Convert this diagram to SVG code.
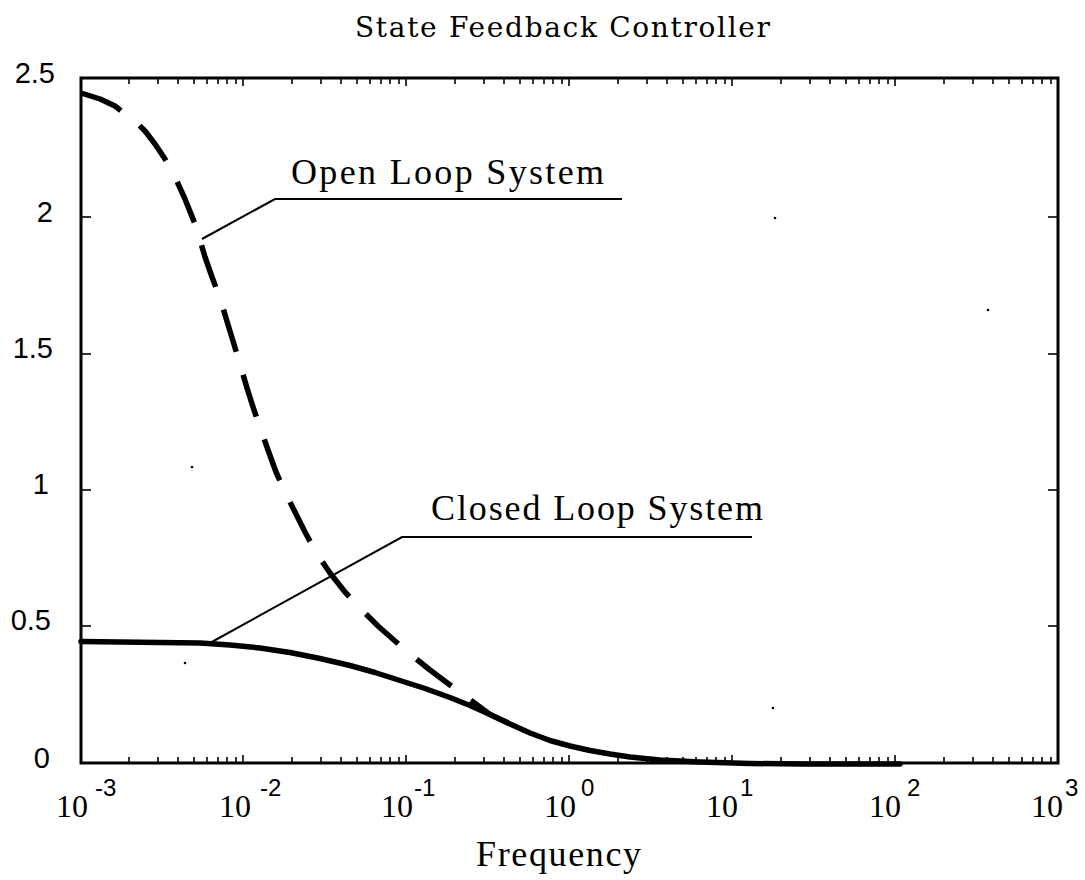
<svg xmlns="http://www.w3.org/2000/svg" width="1085" height="880" viewBox="0 0 1085 880">
  <defs>
    <style>
      .axis { fill: none; stroke: #000; stroke-width: 3; }
      .tick { stroke: #000; stroke-width: 1.6; }
      .curve { fill: none; stroke: #000; stroke-width: 5.5; stroke-linejoin: round; stroke-linecap: round; }
      .open { stroke-dasharray: 44 24; stroke-linecap: butt; }
      .leader { fill: none; stroke: #000; stroke-width: 2; }
      .ylab { font-family: "Liberation Sans", Arial, sans-serif; font-size: 29px; fill: #000; text-anchor: end; }
      .xlab { font-family: "Liberation Serif", "Times New Roman", serif; font-size: 32px; fill: #000; }
      .sup { font-family: "Liberation Sans", Arial, sans-serif; font-size: 24px; fill: #000; }
      .label { font-family: "Liberation Serif", "Times New Roman", serif; font-size: 36px; fill: #000; }
      .title { font-family: "DejaVu Serif", "Liberation Serif", serif; font-size: 28px; fill: #000; }
    </style>
  </defs>

  <!-- plot title -->
  <text id="title" class="title" x="355" y="37" textLength="415" lengthAdjust="spacing">State Feedback Controller</text>

  <!-- axes frame with ticks -->
  <g id="axes">
    <rect class="axis" x="81" y="78" width="977" height="685"/>
    <!-- y ticks (left and right) -->
    <g class="tick">
      <line x1="81" y1="217" x2="91" y2="217"/><line x1="1058" y1="217" x2="1048" y2="217"/>
      <line x1="81" y1="354" x2="91" y2="354"/><line x1="1058" y1="354" x2="1048" y2="354"/>
      <line x1="81" y1="490" x2="91" y2="490"/><line x1="1058" y1="490" x2="1048" y2="490"/>
      <line x1="81" y1="626" x2="91" y2="626"/><line x1="1058" y1="626" x2="1048" y2="626"/>
    </g>
    <!-- logarithmic x ticks, one decade = 163 px -->
    <g class="tick" id="xticks">
      <path d="M129,763v-6M158,763v-6M178,763v-6M194,763v-6M207,763v-6M218,763v-6M227,763v-6M236,763v-6M243,763v-8
               M292,763v-6M321,763v-6M341,763v-6M357,763v-6M370,763v-6M381,763v-6M390,763v-6M399,763v-6M406,763v-8
               M455,763v-6M484,763v-6M504,763v-6M520,763v-6M533,763v-6M544,763v-6M553,763v-6M562,763v-6M569,763v-8
               M618,763v-6M647,763v-6M667,763v-6M683,763v-6M696,763v-6M707,763v-6M716,763v-6M725,763v-6M732,763v-8
               M781,763v-6M810,763v-6M830,763v-6M846,763v-6M859,763v-6M870,763v-6M879,763v-6M888,763v-6M895,763v-8
               M944,763v-6M973,763v-6M993,763v-6M1009,763v-6M1022,763v-6M1033,763v-6M1042,763v-6M1051,763v-6
               M129,78v6M158,78v6M178,78v6M194,78v6M207,78v6M218,78v6M227,78v6M236,78v6M243,78v8
               M292,78v6M321,78v6M341,78v6M357,78v6M370,78v6M381,78v6M390,78v6M399,78v6M406,78v8
               M455,78v6M484,78v6M504,78v6M520,78v6M533,78v6M544,78v6M553,78v6M562,78v6M569,78v8
               M618,78v6M647,78v6M667,78v6M683,78v6M696,78v6M707,78v6M716,78v6M725,78v6M732,78v8
               M781,78v6M810,78v6M830,78v6M846,78v6M859,78v6M870,78v6M879,78v6M888,78v6M895,78v8
               M944,78v6M973,78v6M993,78v6M1009,78v6M1022,78v6M1033,78v6M1042,78v6M1051,78v6"/>
    </g>
  </g>

  <!-- y axis labels -->
  <g id="ylabels">
    <text class="ylab" x="55" y="83">2.5</text>
    <text class="ylab" x="53" y="222">2</text>
    <text class="ylab" x="53" y="358">1.5</text>
    <text class="ylab" x="49" y="494">1</text>
    <text class="ylab" x="51" y="630">0.5</text>
    <text class="ylab" x="50" y="768">0</text>
  </g>

  <!-- x axis labels (powers of ten) -->
  <g id="xlabels">
    <text class="xlab" x="56" y="817">10</text><text class="sup" x="95" y="796">-3</text>
    <text class="xlab" x="219" y="817">10</text><text class="sup" x="260" y="796">-2</text>
    <text class="xlab" x="381" y="817">10</text><text class="sup" x="414" y="796">-1</text>
    <text class="xlab" x="544" y="817">10</text><text class="sup" x="581" y="796">0</text>
    <text class="xlab" x="706" y="817">10</text><text class="sup" x="740" y="796">1</text>
    <text class="xlab" x="869" y="817">10</text><text class="sup" x="907" y="796">2</text>
    <text class="xlab" x="1031" y="817">10</text><text class="sup" x="1065" y="796">3</text>
  </g>

  <text id="xtitle" class="label" x="476" y="866" textLength="165" lengthAdjust="spacing">Frequency</text>

  <!-- response curves -->
  <g id="curves">
    <polyline id="closed-loop" class="curve" points="81,641.5 120,642 160,642.5 200,643 230,645 260,648 290,652.5 320,658.5 350,665.5 375,672.5 400,680.5 425,688.5 450,697.5 470,705.5 490,714.5 510,724 530,733 550,740.5 570,746 590,750.5 610,754 630,757 660,760 700,762 750,763.5 800,764 900,764"/>
    <polyline id="open-loop" class="curve open" points="81,93 100,99 115,106 125,114 135,121 145,131 155,144 165,159 175,177 185,199 195,224 200,240 205,257 212,277 220,298 226,318 233,341 240,364 247,388 254,410 261,430 268,450 276,472 285,492 295,512 305,532 317,554 330,573 345,592 360,608 378,626 395,641 410,654 430,670 450,685 465,696 490,714.5 520,728.5"/>
  </g>

  <!-- curve labels with leader lines -->
  <g id="open-label">
    <polyline class="leader" points="202,239 275,199 622,199"/>
    <text class="label" x="291" y="184" textLength="313" lengthAdjust="spacing">Open Loop System</text>
  </g>
  <g id="closed-label">
    <polyline class="leader" points="210,643 402,537 752,537"/>
    <text class="label" x="431" y="520" textLength="332" lengthAdjust="spacing">Closed Loop System</text>
  </g>

  <!-- stray specks -->
  <g id="specks" fill="#000">
    <circle cx="775" cy="218" r="1.3"/>
    <circle cx="988" cy="310" r="1.3"/>
    <circle cx="192" cy="467" r="1.3"/>
    <circle cx="185" cy="663" r="1.3"/>
    <circle cx="773" cy="708" r="1.3"/>
  </g>
</svg>
